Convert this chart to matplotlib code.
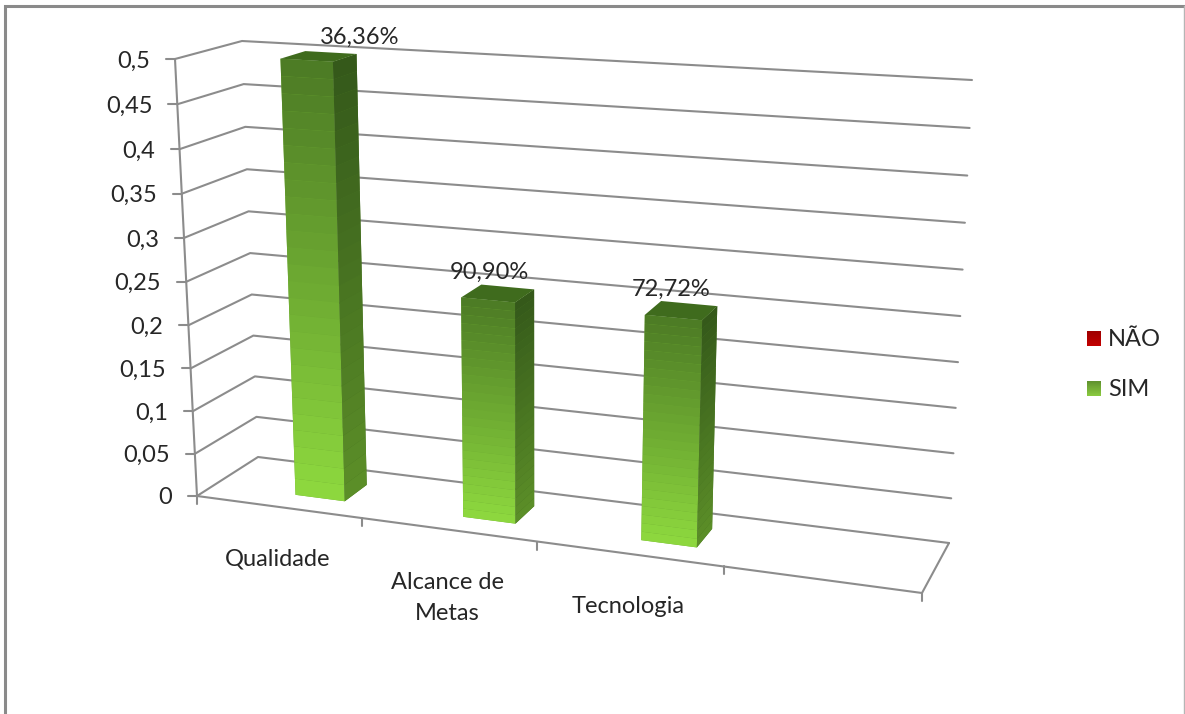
"""Excel-style 3D clustered column chart, projected by hand onto a 2D axes."""

from __future__ import annotations

import matplotlib

matplotlib.use("Agg")
import matplotlib.pyplot as plt
import numpy as np
from matplotlib.colors import to_rgb
from matplotlib.patches import Polygon

OUT_PNG = "out.png"

CATEGORIES = ["Qualidade", "Alcance de\nMetas", "Tecnologia"]
SIM_VALUES = [0.5, 0.25, 0.25]
NAO_VALUES = [0.0, 0.0, 0.0]
DATA_LABELS = ["36,36%", "90,90%", "72,72%"]
Y_TICKS = [0, 0.05, 0.1, 0.15, 0.2, 0.25, 0.3, 0.35, 0.4, 0.45, 0.5]
Y_TICK_LABELS = ["0", "0,05", "0,1", "0,15", "0,2", "0,25", "0,3", "0,35", "0,4", "0,45", "0,5"]
LEGEND_LABELS = ["NÃO", "SIM"]

N_SLOTS = 4  # the axis has room for a fourth, empty category
Y_MAX = 0.5
BAR_START, BAR_END = 0.5, 0.8  # SIM column inside its category slot
DEPTH_START, DEPTH_END = 0.3, 0.7
X_WARP, Z_WARP = 1.13, 1.04

# pixel position of the plot box corners: (x, depth, height) -> (px, py)
BOX = {
    (0, 0, 0): (197, 496), (1, 0, 0): (922, 593),
    (0, 1, 0): (258, 457), (1, 1, 0): (949, 543),
    (0, 0, 1): (175, 59), (1, 0, 1): (949, 107),
    (0, 1, 1): (242, 41), (1, 1, 1): (972, 80),
}
LABEL_OFFSETS = [(41, -19), (-8, -21), (-10, -21)]

GRID = "#8c8c8c"
TEXT = "#262626"
FONT = ["Lato", "DejaVu Sans"]

plt.rcParams.update({"font.family": FONT, "font.size": 17})


def warp(t: float, k: float) -> float:
    return t / (t + k * (1 - t))


def project(cat: float, depth: float, value: float) -> np.ndarray:
    """Map (category units, depth 0-1, value) to pixels."""
    u = warp(cat / N_SLOTS, X_WARP)
    z = warp(value / Y_MAX, Z_WARP)
    p = np.zeros(2)
    for (a, b, c), xy in BOX.items():
        w = (u if a else 1 - u) * (depth if b else 1 - depth) * (z if c else 1 - z)
        p += w * np.array(xy, dtype=float)
    return p


def polyline(ax, pts, lw=1.5):
    xy = np.array(pts)
    ax.plot(xy[:, 0], xy[:, 1], color=GRID, lw=lw, solid_capstyle="round", zorder=1)


def shaded_face(ax, corner, top, bottom, n=26, zorder=3):
    """Fill a face in bands from top to bottom, `corner(f)` gives its two edges at height f (0 = top).

    A plain base polygon goes under the bands so the seams show no background.
    """
    c0, c1 = np.array(to_rgb(top)), np.array(to_rgb(bottom))
    a_top, b_top = corner(0)
    a_bot, b_bot = corner(1)
    ax.add_patch(Polygon([a_top, b_top, b_bot, a_bot], closed=True, fc=(c0 + c1) / 2, ec="none",
                         snap=False, zorder=zorder))
    for i in range(n):
        a0, b0 = corner(i / n)
        a1, b1 = corner((i + 1) / n)
        color = c0 + (c1 - c0) * (i + 0.5) / n
        ax.add_patch(Polygon([a0, b0, b1, a1], closed=True, fc=color, ec="none", snap=False, zorder=zorder))


def draw_bar(ax, slot, value):
    x0, x1 = slot + BAR_START, slot + BAR_END
    d0, d1 = DEPTH_START, DEPTH_END

    def front(f):
        v = value * (1 - f)
        return project(x0, d0, v), project(x1, d0, v)

    def side(f):
        v = value * (1 - f)
        return project(x1, d0, v), project(x1, d1, v)

    shaded_face(ax, front, "#4c7a24", "#8ed93f")
    shaded_face(ax, side, "#34581a", "#5c8f28")
    top = [project(x0, d0, value), project(x1, d0, value), project(x1, d1, value), project(x0, d1, value)]
    ax.add_patch(Polygon(top, closed=True, fc="#3f6b1d", ec="none", snap=False, zorder=3))
    return project((x0 + x1) / 2, (d0 + d1) / 2, value)


def main() -> int:
    fig = plt.figure(figsize=(11.85, 7.14), dpi=100)
    ax = fig.add_axes([0, 0, 1, 1])
    ax.set_xlim(0, 1185)
    ax.set_ylim(714, 0)
    ax.axis("off")

    # chart frame, cropped at the bottom
    ax.plot([5, 5, 1184], [714, 6, 6], color="#8a8a8a", lw=2.2, solid_joinstyle="miter", zorder=1)
    ax.plot([1184, 1184], [6, 714], color="#b5b5b5", lw=1, zorder=1)

    # walls and floor
    for v in Y_TICKS:
        polyline(ax, [project(0, 0, v), project(0, 1, v), project(N_SLOTS, 1, v)])
    polyline(ax, [project(0, 0, 0), project(N_SLOTS, 0, 0), project(N_SLOTS, 1, 0)])
    polyline(ax, [project(0, 0, 0), project(0, 0, Y_MAX)])

    for v, lab in zip(Y_TICKS, Y_TICK_LABELS):
        p = project(0, 0, v)
        polyline(ax, [p, p + (-9, 0)])
        ax.text(p[0] - 25, p[1] + 2, lab, ha="right", va="center", color=TEXT)

    for slot in range(N_SLOTS + 1):
        p = project(slot, 0, 0)
        polyline(ax, [p, p + (0, 8)])

    for slot, lab in enumerate(CATEGORIES):
        p = project(slot + 0.5, 0, 0)
        ax.text(p[0] - 1, p[1] + 42, lab, ha="center", va="top", color=TEXT, linespacing=1.62, zorder=5)

    for slot, (value, lab) in enumerate(zip(SIM_VALUES, DATA_LABELS)):
        c = draw_bar(ax, slot, value)
        off = LABEL_OFFSETS[slot]
        ax.text(c[0] + off[0], c[1] + off[1], lab, ha="center", va="center", color=TEXT, zorder=5)

    # legend
    swatches = [("#9c0000", "#c40000"), ("#5d8f2e", "#8ccc40")]
    for i, (lab, (top, bottom)) in enumerate(zip(LEGEND_LABELS, swatches)):
        y = 331 + i * 50
        shaded_face(ax, lambda f, y=y: ((1087, y + 15 * f), (1101, y + 15 * f)), top, bottom, n=8)
        ax.text(1108, y + 8.5, lab, ha="left", va="center", color=TEXT)

    fig.savefig(OUT_PNG, dpi=100)
    print(f"wrote {OUT_PNG}")
    return 0


if __name__ == "__main__":
    raise SystemExit(main())
